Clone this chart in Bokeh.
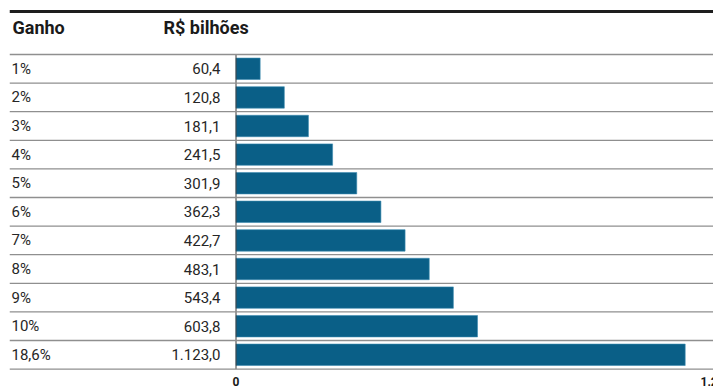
from bokeh.plotting import figure
from bokeh.models import Range1d, Span, ColumnDataSource
from bokeh.core.properties import value
from bokeh.embed import file_html
from bokeh.resources import INLINE

# ---- data ----
ganho = ["1%", "2%", "3%", "4%", "5%", "6%", "7%", "8%", "9%", "10%", "18,6%"]
bilhoes = [60.4, 120.8, 181.1, 241.5, 301.9, 362.3, 422.7, 483.1, 543.4, 603.8, 1123.0]
tick_values = [0, 1200]
tick_labels = ["0", "1.200"]
header_ganho = "Ganho"
header_valor = "R$ bilhões"


def fmt(v):
    s = f"{v:,.1f}"
    return s.replace(",", "X").replace(".", ",").replace("X", ".")


n = len(ganho)
rows = list(range(n))
src = ColumnDataSource(dict(
    y=rows,
    v=bilhoes,
    zero=[0] * n,
    lab=ganho,
    vlab=[fmt(v) for v in bilhoes],
))

W, H = 713, 389
BORDER_L = 9
X0_PX = 235.5          # pixel of value 0
PX_PER_UNIT = 0.4
ROW_PX = 28.6
ROW0_PX = 68.3         # pixel center of first row

x_start = (BORDER_L - X0_PX) / PX_PER_UNIT
x_end = (W - X0_PX) / PX_PER_UNIT
y_top = (0 - ROW0_PX) / ROW_PX
y_bot = (H - ROW0_PX) / ROW_PX

p = figure(width=W, height=H, output_backend="svg", toolbar_location=None,
           x_range=Range1d(x_start, x_end), y_range=Range1d(y_bot, y_top),
           min_border_left=BORDER_L, min_border_right=0, min_border_top=0,
           min_border_bottom=0)
p.axis.visible = False
p.grid.visible = False
p.outline_line_color = None
p.background_fill_color = "white"
p.border_fill_color = "white"

# thick top rule
p.add_layout(Span(location=-2.0, dimension="width", line_color="#1e1e1e", line_width=3))
# row separators
for b in [r - 0.5 for r in range(n + 1)]:
    p.add_layout(Span(location=b, dimension="width", line_color="#8f8f8f", line_width=1.3))

# bars
p.hbar(y="y", left="zero", right="v", height=0.75, source=src,
       fill_color="#0a5f87", line_color="#3d8bb0", line_width=0.6)

# vertical zero line
p.segment(x0=[0], x1=[0], y0=[-0.5], y1=[n - 0.5], line_color="#3a3a3a", line_width=1)

FONT = value("Roboto")
p.text(x="zero", y="y", text="lab", source=src, x_offset=11 - X0_PX,
       text_align="left", text_baseline="middle", text_font=FONT,
       text_font_size="15px", text_color="#262626")
p.text(x="zero", y="y", text="vlab", source=src, x_offset=220 - X0_PX,
       text_align="right", text_baseline="middle", text_font=FONT,
       text_font_size="15px", text_color="#262626")

# headers
p.text(x=[0], y=[-1.45], text=[header_ganho], x_offset=12 - X0_PX,
       text_align="left", text_baseline="middle", text_font=FONT,
       text_font_style="bold", text_font_size="18px", text_color="#1a1a1a")
p.text(x=[0], y=[-1.45], text=[header_valor], x_offset=163 - X0_PX,
       text_align="left", text_baseline="middle", text_font=FONT,
       text_font_style="bold", text_font_size="18px", text_color="#1a1a1a")

# x tick labels
p.text(x=tick_values, y=[n - 0.08] * len(tick_values), text=tick_labels,
       text_align="center", text_baseline="middle", text_font=FONT,
       text_font_style="bold", text_font_size="12px", text_color="#1a1a1a")

open("out.html", "w").write(file_html(p, INLINE))
